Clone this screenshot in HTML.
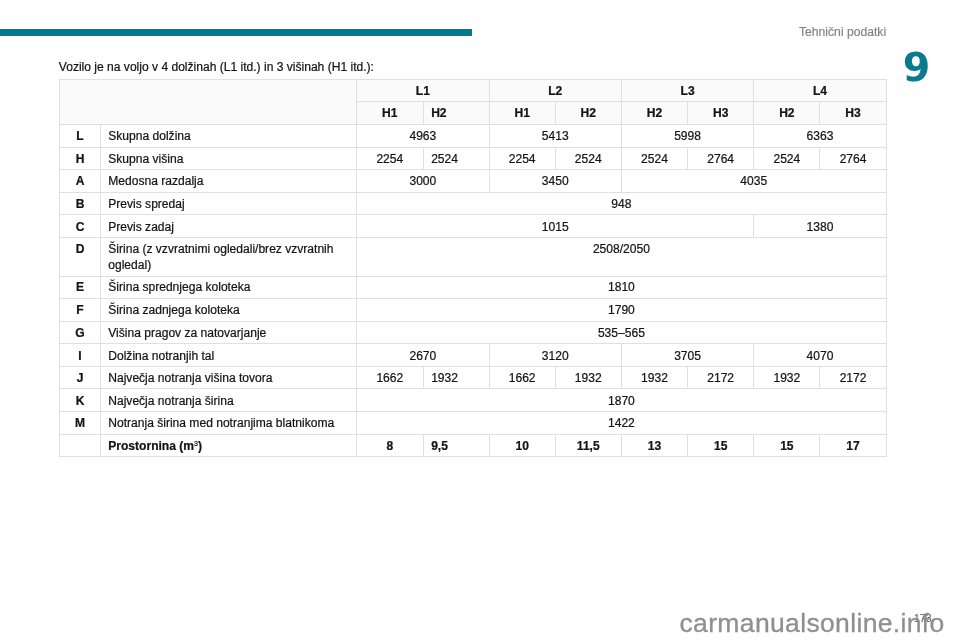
<!DOCTYPE html>
<html lang="sl">
<head>
<meta charset="utf-8">
<title>Tehnični podatki</title>
<style>
html,body{margin:0;padding:0;background:#fff;}
body{width:960px;height:640px;position:relative;overflow:hidden;font-family:"Liberation Sans",Arial,sans-serif;color:#141414;-webkit-text-stroke:0.22px currentColor;}
.bar{position:absolute;left:0;top:29px;width:472px;height:7px;background:#007a8f;}
.sect{-webkit-text-stroke:0.2px #858585;position:absolute;right:73.9px;top:24.8px;font-size:12.15px;color:#858585;line-height:14px;white-space:nowrap;}
.chap{-webkit-text-stroke:0;position:absolute;left:902.7px;top:42.5px;font-family:"DejaVu Sans",sans-serif;font-weight:bold;font-size:39.5px;line-height:48px;color:#0a7a8c;}
.intro{position:absolute;left:58.8px;top:60.4px;font-size:12.07px;line-height:14px;white-space:nowrap;}
table{position:absolute;left:58.75px;top:78.75px;border-collapse:separate;border-spacing:0;table-layout:fixed;width:827.95px;font-size:12.07px;line-height:16px;border-top:1px solid #e0e0e0;border-left:1px solid #e0e0e0;}
td,th{border:0 solid #e0e0e0;border-width:0 1px 1px 0;padding:3.1px 0 0;text-align:center;vertical-align:top;font-weight:normal;height:22.6px;box-sizing:border-box;}
th{font-weight:bold;background:#fafafa;}
tr:nth-child(1)>*{height:22.453125px;}tr:nth-child(2)>*{height:22.609375px;}tr:nth-child(3)>*{height:22.71875px;}tr:nth-child(4)>*{height:22.59375px;}tr:nth-child(5)>*{height:22.609375px;}tr:nth-child(6)>*{height:22.578125px;}tr:nth-child(7)>*{height:22.59375px;}tr:nth-child(8)>*{height:38.703125px;}tr:nth-child(9)>*{height:22.5px;}tr:nth-child(10)>*{height:22.59375px;}tr:nth-child(11)>*{height:22.609375px;}tr:nth-child(12)>*{height:22.59375px;}tr:nth-child(13)>*{height:22.546875px;}tr:nth-child(14)>*{height:22.609375px;}tr:nth-child(15)>*{height:22.59375px;}tr:nth-child(16)>*{height:22.546875px;}tr:nth-child(1)>th[rowspan]{height:45.05px;}
td.m,th.m{text-align:left;padding-left:7.6px;}
tr:nth-child(n+3)>td{padding-top:3.2px;}tr:nth-child(9)>td{padding-top:2.7px;}tr:nth-child(12)>td{padding-top:3.35px;}
td.l{font-weight:bold;}
td.n,th.n{text-align:left;padding-left:7px;}
tr.b td{font-weight:bold;}
sup{font-size:7px;line-height:0;vertical-align:4px;font-weight:normal;}
.pg{-webkit-text-stroke:0.15px #666;position:absolute;left:914px;top:610.5px;font-size:10.5px;line-height:14px;color:#666;}
.wm{position:absolute;left:679.5px;top:607.9px;font-size:26.5px;letter-spacing:0.35px;line-height:30px;color:#8f8f8f;white-space:nowrap;-webkit-text-stroke:0.3px #8f8f8f;}
</style>
</head>
<body>
<div class="bar"></div>
<div class="sect">Tehnični podatki</div>
<div class="chap">9</div>
<div class="intro">Vozilo je na voljo v 4 dolžinah (L1 itd.) in 3 višinah (H1 itd.):</div>
<table>
<colgroup><col style="width:41.5px"><col style="width:255.85px"><col style="width:66.46px"><col style="width:66.05px"><col style="width:66.07px"><col style="width:66.2px"><col style="width:66.2px"><col style="width:66.2px"><col style="width:66.2px"><col style="width:66.2px"></colgroup>
<tr><th colspan="2" rowspan="2"></th><th colspan="2">L1</th><th colspan="2">L2</th><th colspan="2">L3</th><th colspan="2">L4</th></tr>
<tr><th>H1</th><th class="m">H2</th><th>H1</th><th>H2</th><th>H2</th><th>H3</th><th>H2</th><th>H3</th></tr>
<tr><td class="l">L</td><td class="n">Skupna dolžina</td><td colspan="2">4963</td><td colspan="2">5413</td><td colspan="2">5998</td><td colspan="2">6363</td></tr>
<tr><td class="l">H</td><td class="n">Skupna višina</td><td>2254</td><td class="m">2524</td><td>2254</td><td>2524</td><td>2524</td><td>2764</td><td>2524</td><td>2764</td></tr>
<tr><td class="l">A</td><td class="n">Medosna razdalja</td><td colspan="2">3000</td><td colspan="2">3450</td><td colspan="4">4035</td></tr>
<tr><td class="l">B</td><td class="n">Previs spredaj</td><td colspan="8">948</td></tr>
<tr><td class="l">C</td><td class="n">Previs zadaj</td><td colspan="6">1015</td><td colspan="2">1380</td></tr>
<tr><td class="l">D</td><td class="n">Širina (z vzvratnimi ogledali/brez vzvratnih<br>ogledal)</td><td colspan="8">2508/2050</td></tr>
<tr><td class="l">E</td><td class="n">Širina sprednjega koloteka</td><td colspan="8">1810</td></tr>
<tr><td class="l">F</td><td class="n">Širina zadnjega koloteka</td><td colspan="8">1790</td></tr>
<tr><td class="l">G</td><td class="n">Višina pragov za natovarjanje</td><td colspan="8">535–565</td></tr>
<tr><td class="l">I</td><td class="n">Dolžina notranjih tal</td><td colspan="2">2670</td><td colspan="2">3120</td><td colspan="2">3705</td><td colspan="2">4070</td></tr>
<tr><td class="l">J</td><td class="n">Največja notranja višina tovora</td><td>1662</td><td class="m">1932</td><td>1662</td><td>1932</td><td>1932</td><td>2172</td><td>1932</td><td>2172</td></tr>
<tr><td class="l">K</td><td class="n">Največja notranja širina</td><td colspan="8">1870</td></tr>
<tr><td class="l">M</td><td class="n">Notranja širina med notranjima blatnikoma</td><td colspan="8">1422</td></tr>
<tr class="b"><td></td><td class="n">Prostornina (m<sup>3</sup>)</td><td>8</td><td class="m">9,5</td><td>10</td><td>11,5</td><td>13</td><td>15</td><td>15</td><td>17</td></tr>
</table>
<div class="pg">173</div>
<div class="wm">carmanualsonline.info</div>
</body>
</html>
